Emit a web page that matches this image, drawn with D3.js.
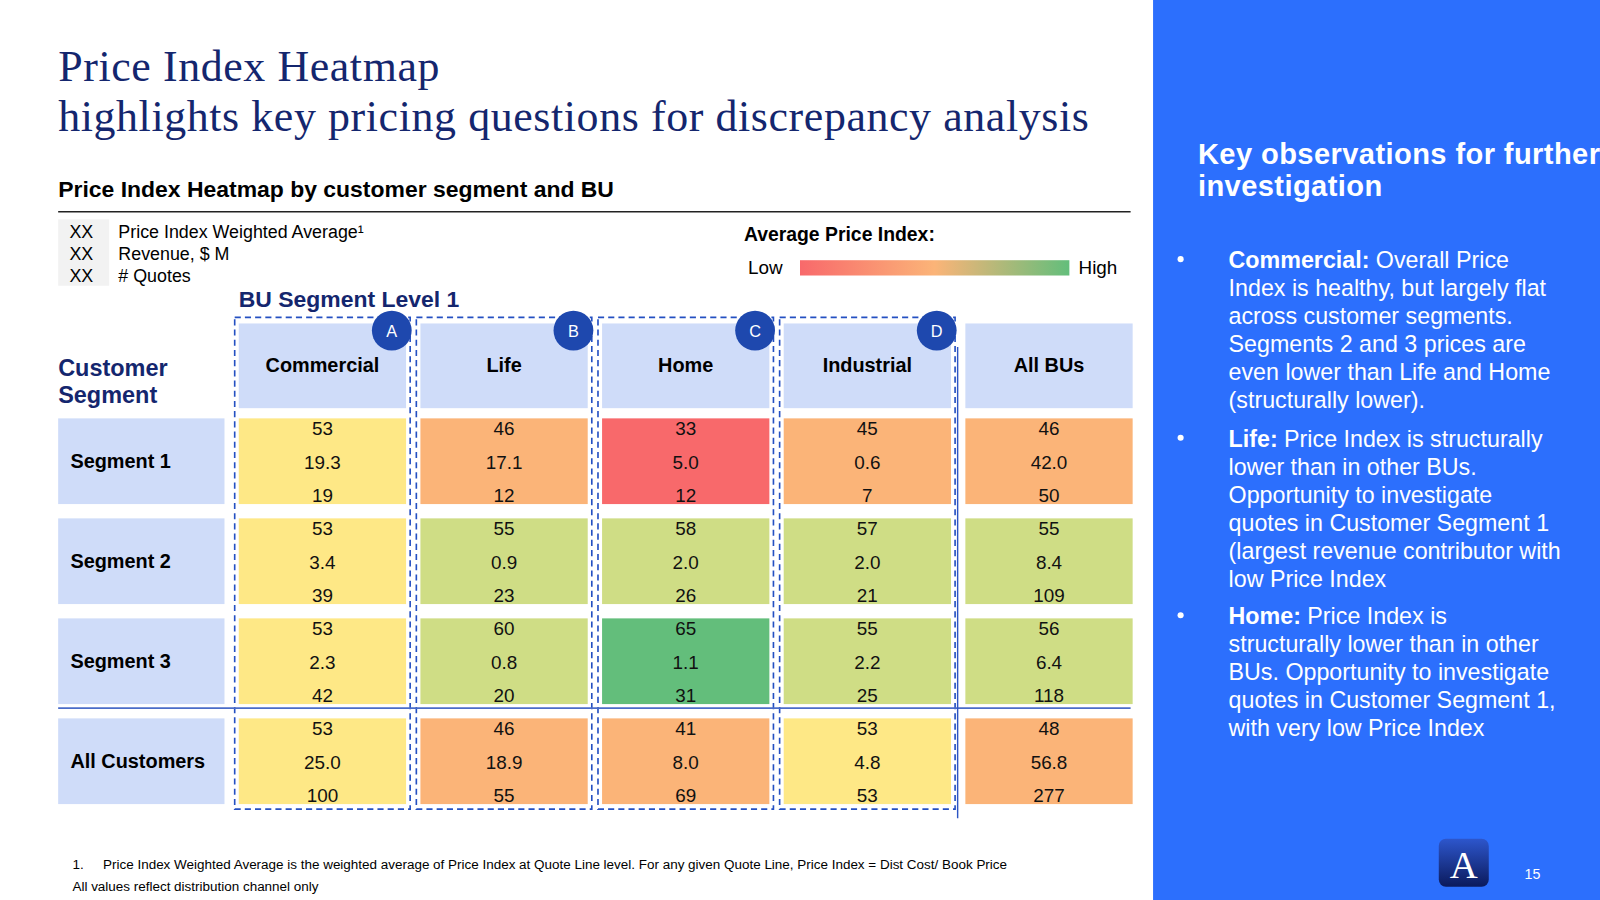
<html>
<head>
<script src="https://d3js.org/d3.v7.min.js"></script>
<style type="text/css">
body { margin: 0; background: #fff; }
svg { display: block; font-family: "Liberation Sans", Arial, Helvetica, sans-serif; }
</style>
</head>
<body>
<script>
// chart data
var buSegments = ['Commercial', 'Life', 'Home', 'Industrial', 'All BUs'];
var buBadges = ['A', 'B', 'C', 'D'];
var customerSegments = ['Segment 1', 'Segment 2', 'Segment 3', 'All Customers'];
var priceIndex = [[53, 46, 33, 45, 46], [53, 55, 58, 57, 55], [53, 60, 65, 55, 56], [53, 46, 41, 53, 48]];
var revenue = [[19.3, 17.1, 5.0, 0.6, 42.0], [3.4, 0.9, 2.0, 2.0, 8.4], [2.3, 0.8, 1.1, 2.2, 6.4], [25.0, 18.9, 8.0, 4.8, 56.8]];
var quotes = [[19, 12, 12, 7, 50], [39, 23, 26, 21, 109], [42, 20, 31, 25, 118], [100, 55, 69, 53, 277]];
var legendRows = ['Price Index Weighted Average\u00b9', 'Revenue, $ M', '# Quotes'];
var observations = [
	{head: 'Commercial:', lines: [' Overall Price', 'Index is healthy, but largely flat', 'across customer segments.', 'Segments 2 and 3 prices are', 'even lower than Life and Home', '(structurally lower).']},
	{head: 'Life:', lines: [' Price Index is structurally', 'lower than in other BUs.', 'Opportunity to investigate', 'quotes in Customer Segment 1', '(largest revenue contributor with', 'low Price Index']},
	{head: 'Home:', lines: [' Price Index is', 'structurally lower than in other', 'BUs. Opportunity to investigate', 'quotes in Customer Segment 1,', 'with very low Price Index']}
];

document.addEventListener('DOMContentLoaded', function () {
	//drawn in slide units (1568 x 882) and scaled up to the 1600 x 900 window
	var svg = d3.select('body').append('svg')
		.attr('width', 1600).attr('height', 900)
		.attr('viewBox', '0 0 1568 882');

	var navy = '#14266e';
	var headFill = '#cfdcf9';
	var dashBlue = '#2450c2';
	var red = '#f8696b', orange = '#fbb478', yellow = '#fee886', lightGreen = '#cfdd85', green = '#63be7b';

	var color = d3.scaleThreshold().domain([40, 50, 55, 62]).range([red, orange, yellow, lightGreen, green]);

	//titles
	[['Price Index Heatmap', 79], ['highlights key pricing questions for discrepancy analysis', 128]].forEach(function (t) {
		svg.append('text').attr('x', 57).attr('y', t[1]).attr('fill', navy)
			.style('font-family', '"Liberation Serif", "DejaVu Serif", serif').style('font-size', '43px')
			.style('letter-spacing', '0.6px').text(t[0]);
	});

	svg.append('text').attr('x', 57).attr('y', 193).attr('fill', '#000')
		.style('font-size', '22.5px').style('font-weight', 'bold')
		.text('Price Index Heatmap by customer segment and BU');
	svg.append('line').attr('x1', 57).attr('x2', 1108).attr('y1', 207.5).attr('y2', 207.5)
		.attr('stroke', '#222').attr('stroke-width', 1.3);

	//value legend
	svg.append('rect').attr('x', 57).attr('y', 215).attr('width', 50).attr('height', 65).attr('fill', '#f2f2f2');
	legendRows.forEach(function (t, i) {
		var y = 233 + i * 21.5;
		svg.append('text').attr('x', 68).attr('y', y).style('font-size', '17.5px').text('XX');
		svg.append('text').attr('x', 116).attr('y', y).style('font-size', '17.5px').text(t);
	});

	//colour legend
	svg.append('text').attr('x', 729).attr('y', 236).style('font-size', '19px').style('font-weight', 'bold').text('Average Price Index:');
	var grad = svg.append('defs').append('linearGradient').attr('id', 'pigrad');
	grad.append('stop').attr('offset', '0%').attr('stop-color', red);
	grad.append('stop').attr('offset', '50%').attr('stop-color', orange);
	grad.append('stop').attr('offset', '100%').attr('stop-color', green);
	svg.append('text').attr('x', 733).attr('y', 269).style('font-size', '18.5px').text('Low');
	svg.append('rect').attr('x', 784).attr('y', 255).attr('width', 264).attr('height', 15).attr('fill', 'url(#pigrad)');
	svg.append('text').attr('x', 1057).attr('y', 269).style('font-size', '18.5px').text('High');

	//scales
	var x = d3.scaleBand().domain(buSegments).range([234, 1110]).paddingInner(0.079);
	var y = d3.scaleBand().domain(customerSegments).range([410, 788]).paddingInner(0.143);
	var bw = x.bandwidth(), bh = y.bandwidth();

	svg.append('text').attr('x', 234).attr('y', 301).attr('fill', navy)
		.style('font-size', '22.5px').style('font-weight', 'bold').text('BU Segment Level 1');
	var cs = svg.append('text').attr('fill', navy).style('font-size', '23px').style('font-weight', 'bold');
	cs.append('tspan').attr('x', 57).attr('y', 368).text('Customer');
	cs.append('tspan').attr('x', 57).attr('y', 395).text('Segment');

	//dashed BU boxes
	buBadges.forEach(function (b, i) {
		var bu = buSegments[i];
		svg.append('rect').attr('x', x(bu) - 4).attr('y', 311).attr('width', bw + 8).attr('height', 482)
			.attr('fill', 'none').attr('stroke', dashBlue).attr('stroke-width', 1.6).attr('stroke-dasharray', '6,4');
	});

	//column headers
	var head = svg.append('g').selectAll('g').data(buSegments).join('g');
	head.append('rect').attr('x', function (d) { return x(d); }).attr('y', 317).attr('width', bw).attr('height', 83).attr('fill', headFill);
	head.append('text').attr('x', function (d) { return x(d) + bw / 2; }).attr('y', 365)
		.attr('text-anchor', 'middle').style('font-size', '19.5px').style('font-weight', 'bold')
		.text(function (d) { return d; });

	//row headers
	var rows = svg.append('g').selectAll('g').data(customerSegments).join('g');
	rows.append('rect').attr('x', 57).attr('y', function (d) { return y(d); }).attr('width', 163).attr('height', bh).attr('fill', headFill);
	rows.append('text').attr('x', 69).attr('y', function (d) { return y(d) + bh / 2 + 7; })
		.style('font-size', '19.5px').style('font-weight', 'bold').text(function (d) { return d; });

	//separator and vertical rule
	svg.append('line').attr('x1', 57).attr('x2', 1108).attr('y1', 694).attr('y2', 694)
		.attr('stroke', '#4a6cc9').attr('stroke-width', 1.6);
	var vx = x('Industrial') + bw + 6.5;
	svg.append('line').attr('x1', vx).attr('x2', vx).attr('y1', 340).attr('y2', 802)
		.attr('stroke', '#2d55c4').attr('stroke-width', 1.4);

	//heatmap cells
	var cells = [];
	customerSegments.forEach(function (seg, r) {
		buSegments.forEach(function (bu, c) {
			cells.push({seg: seg, bu: bu, pi: priceIndex[r][c], rev: revenue[r][c], q: quotes[r][c]});
		});
	});
	var cell = svg.append('g').selectAll('g').data(cells).join('g');
	cell.append('rect')
		.attr('x', function (d) { return x(d.bu); }).attr('y', function (d) { return y(d.seg); })
		.attr('width', bw).attr('height', bh)
		.attr('fill', function (d) { return color(d.pi); });
	[[function (d) { return d.pi; }, 16.5], [function (d) { return d.rev.toFixed(1); }, 49.5], [function (d) { return d.q; }, 82]].forEach(function (v) {
		cell.append('text')
			.attr('x', function (d) { return x(d.bu) + bw / 2; })
			.attr('y', function (d) { return y(d.seg) + v[1]; })
			.attr('text-anchor', 'middle').style('font-size', '18.5px').attr('fill', '#111')
			.text(v[0]);
	});

	//badges
	var badge = svg.append('g').selectAll('g').data(buBadges).join('g')
		.attr('transform', function (d, i) { return 'translate(' + (x(buSegments[i]) + bw - 14) + ',324)'; });
	badge.append('circle').attr('r', 19.5).attr('fill', '#1e48ae');
	badge.append('text').attr('y', 6).attr('text-anchor', 'middle').attr('fill', '#fff').style('font-size', '16px').text(function (d) { return d; });

	//footnotes
	svg.append('text').attr('x', 71).attr('y', 852).style('font-size', '13.2px').text('1.');
	svg.append('text').attr('x', 101).attr('y', 852).style('font-size', '13.2px')
		.text('Price Index Weighted Average is the weighted average of Price Index at Quote Line level. For any given Quote Line, Price Index = Dist Cost/ Book Price');
	svg.append('text').attr('x', 71).attr('y', 873).style('font-size', '13.2px').text('All values reflect distribution channel only');

	//right panel
	svg.append('rect').attr('x', 1130).attr('y', 0).attr('width', 438).attr('height', 882).attr('fill', '#2c6ffd');
	svg.append('text').attr('x', 1174).attr('y', 161).attr('fill', '#fff').style('font-size', '28.5px').style('font-weight', 'bold')
		.style('letter-spacing', '0.4px').text('Key observations for further');
	svg.append('text').attr('x', 1174).attr('y', 192).attr('fill', '#fff').style('font-size', '28.5px').style('font-weight', 'bold')
		.style('letter-spacing', '0.4px').text('investigation');

	var lineH = 27.4;
	var starts = [255, 430, 604];
	observations.forEach(function (o, i) {
		svg.append('circle').attr('cx', 1157).attr('cy', starts[i] - 1).attr('r', 3).attr('fill', '#fff');
		o.lines.forEach(function (ln, j) {
			var t = svg.append('text').attr('x', 1204).attr('y', starts[i] + 8 + j * lineH).attr('fill', '#fff').style('font-size', '22.8px');
			if (j == 0) {
				t.append('tspan').style('font-weight', 'bold').text(o.head);
			}
			t.append('tspan').text(ln);
		});
	});

	//logo and page number
	var lg = svg.select('defs').append('linearGradient').attr('id', 'logograd').attr('x1', 0).attr('x2', 0).attr('y1', 0).attr('y2', 1);
	lg.append('stop').attr('offset', '0%').attr('stop-color', '#2d56cc');
	lg.append('stop').attr('offset', '100%').attr('stop-color', '#0b1a5c');
	svg.append('rect').attr('x', 1410).attr('y', 822).attr('width', 49).attr('height', 47).attr('rx', 7).attr('fill', 'url(#logograd)');
	svg.append('text').attr('x', 1434.5).attr('y', 860).attr('text-anchor', 'middle').attr('fill', '#fff')
		.style('font-family', '"Liberation Serif", serif').style('font-size', '38px').text('A');
	svg.append('text').attr('x', 1494).attr('y', 861).attr('fill', '#fff').style('font-size', '14px').text('15');
});
</script>
</body>
</html>
